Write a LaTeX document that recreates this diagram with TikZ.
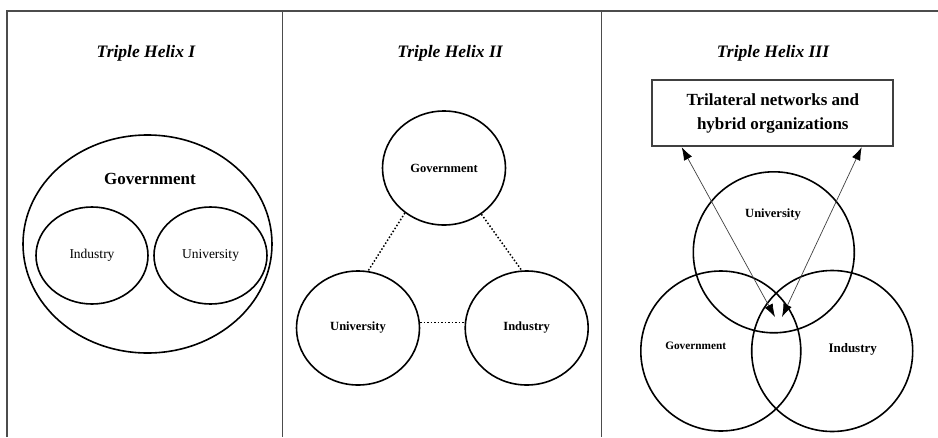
\documentclass[tikz,border=0pt]{standalone}
\usepackage{fontspec}
\setmainfont{Liberation Serif}
\usetikzlibrary{shapes.geometric,arrows.meta}

\begin{document}
\begin{tikzpicture}[x=1pt,y=-1pt,
    frame/.style={line width=1.8pt, black!70},
    blob/.style={ellipse, draw, line width=1.6pt, inner sep=0pt},
    title/.style={font=\fontsize{17.5}{20}\selectfont\bfseries\itshape},
    weak/.style={dotted, line width=1.5pt},
    dual/.style={{Latex[length=13pt,width=9pt,black]}-{Latex[length=13pt,width=9pt,black]}, line width=0.7pt, black!75}]
  \useasboundingbox (0,0) rectangle (938,437);

  % outer frame and dividers
  \draw[frame] (7,437) -- (7,11) -- (938,11);
  \draw[frame] (282.5,11) -- (282.5,437);
  \draw[frame] (601.5,11) -- (601.5,437);

  % Triple Helix I
  \node[title] (t1) at (146,53) {Triple Helix I};
  \node[blob, minimum width=249pt, minimum height=218pt] (gov1) at (147.5,244) {};
  \node[font=\fontsize{17}{20}\selectfont\bfseries] (gov1txt) at (150,179) {Government};
  \node[blob, minimum width=112pt, minimum height=97pt,
    font=\fontsize{13.5}{16}\selectfont] (ind1) at (92,255.5) {Industry};
  \node[blob, minimum width=113pt, minimum height=97pt,
    font=\fontsize{13.5}{16}\selectfont] (uni1) at (210.5,255.5) {University};

  % Triple Helix II
  \node[title] (t2) at (450,53) {Triple Helix II};
  \node[blob, minimum width=123pt, minimum height=114pt,
    font=\fontsize{12.5}{15}\selectfont\bfseries] (gov2) at (444,168) {Government};
  \node[blob, minimum width=123pt, minimum height=114pt,
    font=\fontsize{12.5}{15}\selectfont\bfseries] (uni2) at (358,328) {University};
  \node[blob, minimum width=123pt, minimum height=114pt,
    font=\fontsize{12.5}{15}\selectfont\bfseries] (ind2) at (526.7,328) {Industry};
  \draw[weak] (gov2.229) -- (uni2.80);
  \draw[weak] (gov2.309) -- (ind2.95);
  \draw[weak] (uni2.5) -- (ind2.175);

  % Triple Helix III
  \node[title] (t3) at (773,53) {Triple Helix III};
  \node[draw, line width=1.8pt, black!75, text=black, minimum width=241pt, minimum height=66pt,
    align=center, font=\fontsize{17}{24}\selectfont\bfseries] (net) at (772.8,113.3)
    {Trilateral networks and\\hybrid organizations};
  \node[blob, minimum size=161pt] (uni3) at (773.8,252.3) {};
  \node[blob, minimum size=160pt] (gov3) at (720.8,351) {};
  \node[blob, minimum size=161pt] (ind3) at (832.2,351) {};
  \node[font=\fontsize{12.5}{15}\selectfont\bfseries] (uni3txt) at (773,215) {University};
  \node[font=\fontsize{11.3}{14}\selectfont\bfseries] (gov3txt) at (695.7,345.7) {Government};
  \node[font=\fontsize{13}{15}\selectfont\bfseries] (ind3txt) at (852.7,349) {Industry};

  % links to the hybrid box
  \coordinate (lowL) at (775,317);
  \coordinate (lowR) at (782,317);
  \draw[dual] (lowL) -- (net.south -| 681.7,0);
  \draw[dual] (lowR) -- (net.south -| 861.7,0);
\end{tikzpicture}
\end{document}
